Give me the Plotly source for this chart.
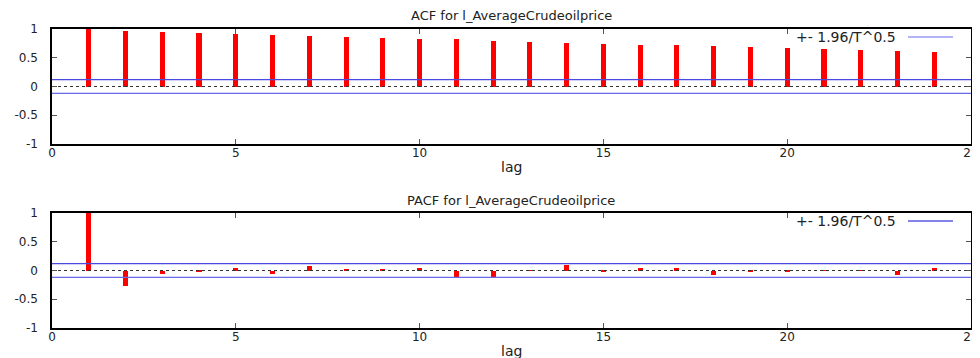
import plotly.graph_objects as go

lags = list(range(1, 25))
acf_values = [0.994, 0.971, 0.953, 0.930, 0.913, 0.895, 0.878, 0.860, 0.843, 0.831,
              0.818, 0.800, 0.779, 0.756, 0.744, 0.727, 0.715, 0.698, 0.680, 0.669,
              0.651, 0.634, 0.616, 0.599]
pacf_values = [0.994, -0.275, -0.064, -0.01, 0.047, -0.053, 0.070, 0.023, 0.023, 0.035,
               -0.129, -0.120, 0.003, 0.094, -0.023, 0.041, 0.041, -0.076, -0.023, -0.029,
               -0.005, -0.005, -0.070, 0.035]
conf_band = 0.12
x_range = [0, 25]
x_ticks = [0, 5, 10, 15, 20, 25]
y_ticks = [-1, -0.5, 0, 0.5, 1]
y_ticktext = ["-1", "-0.5", "0", "0.5", "1"]
titles = ["ACF for l_AverageCrudeoilprice", "PACF for l_AverageCrudeoilprice"]
legend_text = "+- 1.96/T^0.5"
x_title = "lag"

W, H = 980, 358
OFF = 8  # page body margin offset
FONT = "DejaVu Sans"
TXT = "#222222"
fig = go.Figure()

panels = [
    (acf_values, "x", "y", (29, 144)),
    (pacf_values, "x2", "y2", (213, 328)),
]

for i, (vals, xa, ya, (ytop, ybot)) in enumerate(panels):
    fig.add_trace(go.Bar(x=lags, y=vals, width=0.14, marker=dict(color="#ff0000", line=dict(width=0)),
                         xaxis=xa, yaxis=ya, showlegend=False))
    fig.add_trace(go.Scatter(x=x_range, y=[0, 0], mode="lines", line=dict(color="#333333", width=1, dash="dot"),
                             xaxis=xa, yaxis=ya, showlegend=False))
    for s in (1, -1):
        fig.add_trace(go.Scatter(x=x_range, y=[s * conf_band] * 2, mode="lines",
                                 line=dict(color="#4a4ae0" if s > 0 else "#6a6ae8", width=1.2),
                                 xaxis=xa, yaxis=ya, showlegend=False))

axis_common = dict(showgrid=False, zeroline=False, showline=True, linecolor="#000000", linewidth=1.5,
                   mirror="allticks", ticks="inside", ticklen=5, tickcolor="#555555", automargin=False,
                   tickfont=dict(family=FONT, size=12, color=TXT))

def py(p):
    return 1 - (p - OFF) / H

def px(p):
    return (p - OFF) / W

layout = dict(width=W, height=H, margin=dict(l=0, r=0, t=0, b=0, autoexpand=False),
              paper_bgcolor="white", plot_bgcolor="white", showlegend=False, bargap=0)

for i, (vals, xa, ya, (ytop, ybot)) in enumerate(panels):
    xname = "xaxis" if i == 0 else "xaxis2"
    yname = "yaxis" if i == 0 else "yaxis2"
    layout[xname] = dict(axis_common, domain=[px(52), px(971)], range=x_range, tickvals=x_ticks,
                         anchor=ya, ticklabelstandoff=-3)
    layout[yname] = dict(axis_common, domain=[py(ybot), py(ytop)], range=[-1, 1], tickvals=y_ticks,
                         ticktext=y_ticktext, anchor=xa, ticklabelstandoff=10)

fig.update_layout(**layout)

annots = []
shapes = []
for i, (vals, xa, ya, (ytop, ybot)) in enumerate(panels):
    annots.append(dict(x=px(511), y=py(ytop - 13), xref="paper", yref="paper", text=titles[i],
                       showarrow=False, font=dict(family=FONT, size=13, color=TXT),
                       xanchor="center", yanchor="middle"))
    annots.append(dict(x=px(511), y=py(ybot + 23), xref="paper", yref="paper", text=x_title,
                       showarrow=False, font=dict(family=FONT, size=14, color=TXT),
                       xanchor="center", yanchor="middle"))
    annots.append(dict(x=px(898), y=py(ytop + 8), xref="paper", yref="paper", text=legend_text,
                       showarrow=False, font=dict(family=FONT, size=14, color=TXT),
                       xanchor="right", yanchor="middle"))
    shapes.append(dict(type="line", xref="paper", yref="paper", x0=px(908), x1=px(953),
                       y0=py(ytop + 8), y1=py(ytop + 8),
                       line=dict(color="#9a9af5" if i == 0 else "#5a5ae0", width=1.5)))

fig.update_layout(annotations=annots, shapes=shapes)
fig.write_html("out.html")
